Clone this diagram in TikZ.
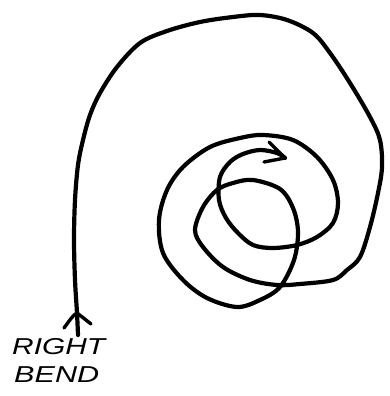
\documentclass[tikz,border=0pt]{standalone}
\usepackage{fontspec}
\newfontfamily\handfont{Liberation Sans}
\begin{document}
\begin{tikzpicture}[x=1pt,y=-1pt,
  pen/.style={line width=4.2pt,line cap=round,line join=round},
  lbl/.style={anchor=base west,inner sep=0pt,font=\handfont\itshape\fontsize{23}{23}\selectfont}]
\useasboundingbox (0,0) rectangle (390,396);
% spiral path
\draw[pen] plot[smooth,tension=0.55] coordinates {
 (78,335) (77,313) (75,280) (74,240) (75,200) (78,165) (83,140) (90,115)
 (100,93) (117,67) (140,43) (167,31) (200,22) (233,17) (260,15) (287,20)
 (313,33) (330,53) (350,83) (370,117) (380,140) (382,167) (378,193)
 (370,227) (360,257) (347,270) (333,280) (300,284) (277,285) (250,280)
 (223,267) (203,247) (195,230) (203,207) (217,190) (233,183) (253,180)
 (280,189) (293,208) (298,232) (294,260) (280,287) (260,300) (237,307)
 (207,298) (183,280) (163,253) (159,220) (167,190) (183,167) (210,147)
 (240,138) (263,135) (293,140) (317,157) (333,180) (338,203) (333,223)
 (317,237) (297,245) (273,248) (253,245) (238,233) (226,218) (219,200)
 (220,177) (230,162) (243,154) (260,150) (277,153) (285,158)};
% arrow marks
\coordinate (tipA) at (77,313);
\coordinate (tipB) at (285,158);
\draw[pen,line width=3.4pt] (64,328) .. controls (70,320) and (73,315) .. (tipA)
  .. controls (81,316) and (86,320) .. (91,324);
\draw[pen,line width=3.4pt] (269,142) -- (tipB) -- (264,162);
% label
\node[lbl] (r) at (12,354) {\scalebox{1.3}[1]{RIGHT}};
\node[lbl] (b) at (14,382) {\scalebox{1.33}[1]{BEND}};
\end{tikzpicture}
\end{document}
